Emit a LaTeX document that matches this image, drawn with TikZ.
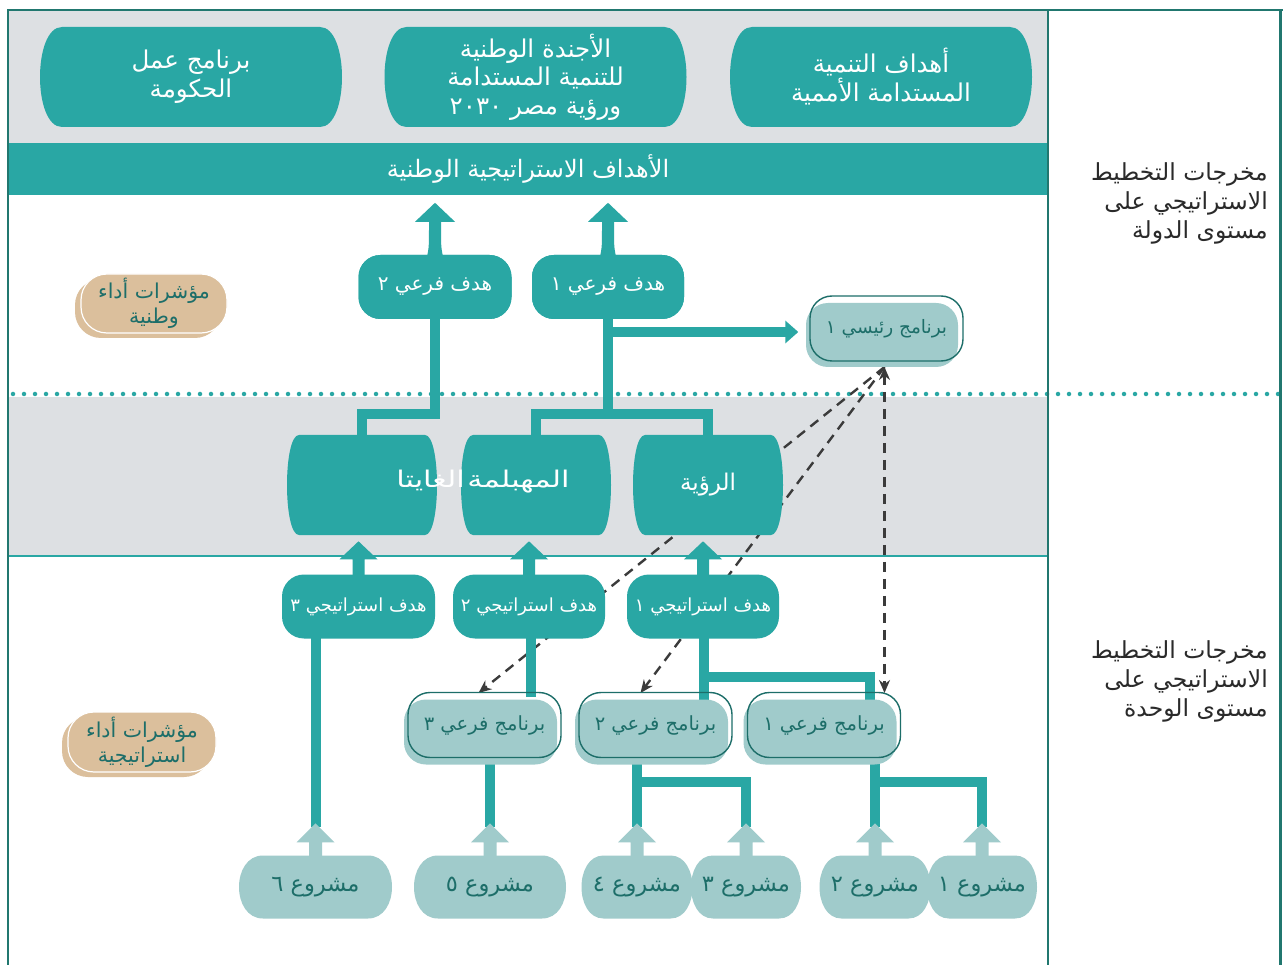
\documentclass[tikz,border=0pt]{standalone}
\usepackage{graphicx}
\usepackage{fontspec}
\newfontfamily\arabicfont[Script=Arabic]{DejaVu Sans}
\TeXXeTstate=1
\usetikzlibrary{arrows.meta,calc}

\definecolor{tealc}{HTML}{29A7A4}
\definecolor{lteal}{HTML}{A0CBCB}
\definecolor{dteal}{HTML}{1D6E69}
\definecolor{framec}{HTML}{21776F}
\definecolor{greyband}{HTML}{DDE0E3}
\definecolor{tanc}{HTML}{DBBF9C}
\definecolor{dashc}{HTML}{3B3B3B}
\definecolor{inkc}{HTML}{2A2A2A}

% right-to-left and left-to-right runs
\newcommand\rl[1]{\beginR#1\endR}
\newcommand\ltr[1]{\beginL#1\endL{}}

% barrel outline: flat top and bottom, bulging sides
% #1 style, #2 cx, #3 cy, #4 width, #5 height, #6 bulge
\newcommand\barrelshape[6]{%
  \pgfmathsetmacro\bxa{#2-#4/2+#6}%
  \pgfmathsetmacro\bxb{#2+#4/2-#6}%
  \pgfmathsetmacro\bya{#3-#5/2}%
  \pgfmathsetmacro\byb{#3+#5/2}%
  \pgfmathsetmacro\bcl{#2-#4/2-#6/3}%
  \pgfmathsetmacro\bcr{#2+#4/2+#6/3}%
  \fill[#1] (\bxa,\bya) -- (\bxb,\bya) .. controls (\bcr,\bya) and (\bcr,\byb) .. (\bxb,\byb)
     -- (\bxa,\byb) .. controls (\bcl,\byb) and (\bcl,\bya) .. (\bxa,\bya) -- cycle;}

% block arrow pointing up from an anchor
% #1 colour, #2 anchor, #3 shaft half width, #4 shaft length, #5 head half width, #6 total length
\newcommand\blockup[6]{%
  \fill[#1] ($(#2)+(-#3,2)$) -- ($(#2)+(-#3,-#4)$) -- ($(#2)+(-#5,-#4)$) -- ($(#2)+(0,-#6)$)
     -- ($(#2)+(#5,-#4)$) -- ($(#2)+(#3,-#4)$) -- ($(#2)+(#3,2)$) -- cycle;}

% flared block arrow above a sub-goal
\newcommand\flareup[1]{%
  \fill[tealc] ($(#1)+(-8,2)$) .. controls ($(#1)+(-6,-8)$) .. ($(#1)+(-6,-33)$)
     -- ($(#1)+(-20,-33)$) -- ($(#1)+(0,-52)$) -- ($(#1)+(20,-33)$) -- ($(#1)+(6,-33)$)
     .. controls ($(#1)+(6,-8)$) .. ($(#1)+(8,2)$) -- cycle;}

% programme box with offset fill: #1 name, #2 cx, #3 cy, #4 text
\newcommand\progbox[4]{%
  \fill[progfill] (#2-80.5,#3-25.5) rectangle (#2+72.5,#3+39.5);
  \node[prog] (#1) at (#2,#3) {#4};}

% indicator box with offset back: #1 name, #2 cx, #3 cy, #4 w, #5 h, #6 text
\newcommand\indbox[6]{%
  \fill[tanc, rounded corners=26pt] (#2-#4/2-6,#3-#5/2+5) rectangle (#2+#4/2-6,#3+#5/2+5);
  \node[indfront, minimum width=#4pt, minimum height=#5pt] (#1) at (#2,#3) {#6};}

\tikzset{
  fs/.style 2 args={font=\arabicfont\fontsize{#1}{#2}\selectfont},
  lbl/.style={inner sep=0pt, align=center},
  conn/.style={draw=tealc, line width=10pt},
  goal/.style={lbl, fill=tealc, text=white, rounded corners=22pt, minimum height=64pt},
  prog/.style={lbl, draw=dteal, line width=1.4pt, text=dteal, rounded corners=22pt,
    minimum width=153pt, minimum height=65pt, fs={19.5}{24}},
  progfill/.style={fill=lteal, rounded corners=22pt},
  indfront/.style={lbl, fill=tanc, draw=white, line width=1.2pt, text=dteal,
    rounded corners=26pt, fs={20.5}{25}},
  dashln/.style={draw=dashc, line width=2.4pt, dash pattern=on 10pt off 7pt},
  dotln/.style={draw=tealc, line width=4.5pt, line cap=round, dash pattern=on 0pt off 11pt},
  framel/.style={draw=framec, line width=2.5pt},
  dtip/.tip={Stealth[length=13pt,width=11pt]},
}

\begin{document}
\begin{tikzpicture}[x=1pt,y=-1pt]
\useasboundingbox (0,0) rectangle (1283,965);
\fill[white] (0,0) rectangle (1283,965);

% ---------- bands ----------
\fill[greyband] (8,10) rectangle (1048,143);
\node[lbl, fill=tealc, text=white, fs={24}{28}, minimum width=1040pt, minimum height=52pt]
  (bar) at (528,169) {\rl{الأهداف الاستراتيجية الوطنية}};
\fill[greyband] (8,397) rectangle (1048,556);
\draw[tealc, line width=2.5pt] (8,556) -- (1048,556);
\draw[dotln] (13,394) -- (1283,394);

% ---------- frame ----------
\draw[framel] (8,965) -- (8,10) -- (1283,10);
\draw[framel] (1048,10) -- (1048,965);
\draw[framel] (1280.5,10) -- (1280.5,965);

% ---------- node positions (drawn later) ----------
\path (435,287) coordinate (sg2c) (608,287) coordinate (sg1c);

% ---------- dashed links from the main programme ----------
\coordinate (hub) at (884.5,367);
\path (484.5,725) coordinate (sp3c) (655.5,725) coordinate (sp2c) (824,725) coordinate (sp1c);
\draw[dashln, -dtip] (hub) -- ($(sp3c)+(-6,-32)$);
\draw[dashln, -dtip] (hub) -- ($(sp2c)+(-15,-32)$);
\draw[dashln, dtip-dtip] (hub) -- (hub |- 0,693);

% ---------- top sources ----------
\barrelshape{tealc}{191}{77}{302}{100}{22}
\node[lbl, text=white, fs={24.5}{29}, minimum width=302pt, minimum height=100pt] (tb1) at (191,77)
  {\rl{برنامج عمل}\\\rl{الحكومة}};
\barrelshape{tealc}{535.5}{77}{302}{100}{22}
\node[lbl, text=white, fs={24.5}{28.5}, minimum width=302pt, minimum height=100pt] (tb2) at (535.5,77)
  {\rl{الأجندة الوطنية}\\\rl{للتنمية المستدامة}\\\rl{ورؤية مصر \ltr{٢٠٣٠}}};
\barrelshape{tealc}{881}{77}{302}{100}{22}
\node[lbl, text=white, fs={24.5}{29}, minimum width=302pt, minimum height=100pt] (tb3) at (881,77)
  {\rl{أهداف التنمية}\\\rl{المستدامة الأممية}};

% ---------- sub-goals ----------
\node[goal, minimum width=153pt, fs={20}{24}] (sg2) at (sg2c) {\rl{هدف فرعي ٢}};
\node[goal, minimum width=152pt, fs={20}{24}] (sg1) at (sg1c) {\rl{هدف فرعي ١}};

% ---------- cylinders and their links ----------
\path (362,485) coordinate (cLc) (536,485) coordinate (cMc) (708,485) coordinate (cRc);
\node[minimum width=150pt, minimum height=100pt, inner sep=0pt] (cL) at (cLc) {};
\node[minimum width=150pt, minimum height=100pt, inner sep=0pt] (cM) at (cMc) {};
\node[minimum width=150pt, minimum height=100pt, inner sep=0pt] (cR) at (cRc) {};
\coordinate (j1) at (608,414);
\draw[conn] (sg1) -- (j1);
\draw[conn] (cM.north) |- (cR.north |- j1) -- (cR.north);
\draw[conn] (sg2) |- (cL.north |- j1) -- (cL.north);
\coordinate (k0) at (608,332);

% ---------- main programme ----------
\fill[progfill] (806,303) rectangle (958,367);
\node[prog, fs={18.5}{22}] (mp) at (886.5,328.5) {\rl{برنامج رئيسي ١}};
\draw[conn, -{Triangle[width=22pt,length=13pt]}, shorten >=11pt] (k0) -- (k0 -| mp.west);

% sub-goal boxes above their stems
\node[goal, minimum width=153pt, fs={20}{24}] at (sg2c) {\rl{هدف فرعي ٢}};
\node[goal, minimum width=152pt, fs={20}{24}] at (sg1c) {\rl{هدف فرعي ١}};
\flareup{sg2.north}
\flareup{sg1.north}

\barrelshape{tealc}{362}{485}{150}{100}{12}
\barrelshape{tealc}{536}{485}{150}{100}{12}
\barrelshape{tealc}{708}{485}{150}{100}{12}
\node[lbl, text=white, fs={23}{26}] (mtext) at (483,482)
  {\scalebox{1.32}[1]{\rl{المهبلمة\hspace{2pt}الغايتا}}};
\node[lbl, text=white, fs={23}{26}] (vtext) at (cR) {\rl{الرؤية}};

% ---------- indicators ----------
\indbox{ind1}{154}{303.5}{146}{59}{\rl{مؤشرات أداء}\\\rl{وطنية}}
\indbox{ind2}{142}{742}{148}{60}{\rl{مؤشرات أداء}\\\rl{استراتيجية}}

% ---------- projects (positions) ----------
\path (315.5,887) coordinate (p6c) (490,887) coordinate (p5c) (637,887) coordinate (p4c)
      (746,887) coordinate (p3c) (875,887) coordinate (p2c) (982,887) coordinate (p1c);
\node[minimum width=153pt, minimum height=63pt, inner sep=0pt] (p6) at (p6c) {};
\node[minimum width=152pt, minimum height=63pt, inner sep=0pt] (p5) at (p5c) {};
\node[minimum width=111pt, minimum height=63pt, inner sep=0pt] (p4) at (p4c) {};
\node[minimum width=110pt, minimum height=63pt, inner sep=0pt] (p3) at (p3c) {};
\node[minimum width=111pt, minimum height=63pt, inner sep=0pt] (p2) at (p2c) {};
\node[minimum width=110pt, minimum height=63pt, inner sep=0pt] (p1) at (p1c) {};

% ---------- strategic goals and their links ----------
\path (358.5,606.5) coordinate (st3c) (529,606.5) coordinate (st2c) (703,606.5) coordinate (st1c);
\node[minimum width=152pt, minimum height=64pt, inner sep=0pt] (st3) at (st3c) {};
\node[minimum width=152pt, minimum height=64pt, inner sep=0pt] (st2) at (st2c) {};
\node[minimum width=152pt, minimum height=64pt, inner sep=0pt] (st1) at (st1c) {};
\draw[conn] (st3.center -| p6.north) -- ($(p6.north)+(0,-28)$);
\draw[conn] ($(st2.center)+(2,0)$) -- ($(st2.center)+(2,90)$);
\draw[conn] ($(st1.center)+(1,0)$) -- ($(st1.center)+(1,93)$);
\coordinate (k1) at ($(st1.south)+(1,38.5)$);
\draw[conn] (k1) -| ($(sp1c)+(46,-25)$);

\node[goal, minimum width=153pt, fs={18}{22}] (st3) at (st3c) {\rl{هدف استراتيجي ٣}};
\node[goal, minimum width=152pt, fs={18}{22}] (st2) at (st2c) {\rl{هدف استراتيجي ٢}};
\node[goal, minimum width=152pt, fs={18}{22}] (st1) at (st1c) {\rl{هدف استراتيجي ١}};
\blockup{tealc}{st3.north}{6}{15}{19}{33}
\blockup{tealc}{st2.north}{6}{15}{19}{33}
\blockup{tealc}{st1.north}{6}{15}{19}{33}

% ---------- sub-programmes ----------
\draw[conn] (sp3c -| p5.north) -- ($(p5.north)+(0,-28)$);
\draw[conn] (sp2c -| p4.north) -- ($(p4.north)+(0,-28)$);
\draw[conn] ($(p4.north)+(0,-73)$) -| ($(p3.north)+(0,-28)$);
\draw[conn] (sp1c -| p2.north) -- ($(p2.north)+(0,-28)$);
\draw[conn] ($(p2.north)+(0,-73)$) -| ($(p1.north)+(0,-28)$);
\progbox{sp3}{484.5}{725}{\rl{برنامج فرعي ٣}}
\progbox{sp2}{655.5}{725}{\rl{برنامج فرعي ٢}}
\progbox{sp1}{824}{725}{\rl{برنامج فرعي ١}}

% ---------- projects ----------
\barrelshape{lteal}{315.5}{887}{153}{63}{24}
\barrelshape{lteal}{490}{887}{152}{63}{24}
\barrelshape{lteal}{637}{887}{111}{63}{22}
\barrelshape{lteal}{746}{887}{110}{63}{22}
\barrelshape{lteal}{875}{887}{111}{63}{22}
\barrelshape{lteal}{982}{887}{110}{63}{22}
\foreach \p/\t in {p6/٦,p5/٥,p4/٤,p3/٣,p2/٢,p1/١}{
  \node[lbl, text=dteal, fs={22.5}{26}] at (\p) {\rl{مشروع \t}};
  \blockup{lteal}{\p.north}{6.5}{13}{19}{32}
}

% ---------- row captions ----------
\node[lbl, align=right, anchor=east, text=inkc, fs={23.5}{29}] (cap1) at (1268,203)
  {\rl{مخرجات التخطيط}\\\rl{الاستراتيجي على}\\\rl{مستوى الدولة}};
\node[lbl, align=right, anchor=east, text=inkc, fs={23.5}{29}] (cap2) at (1268,681)
  {\rl{مخرجات التخطيط}\\\rl{الاستراتيجي على}\\\rl{مستوى الوحدة}};
\end{tikzpicture}
\end{document}
